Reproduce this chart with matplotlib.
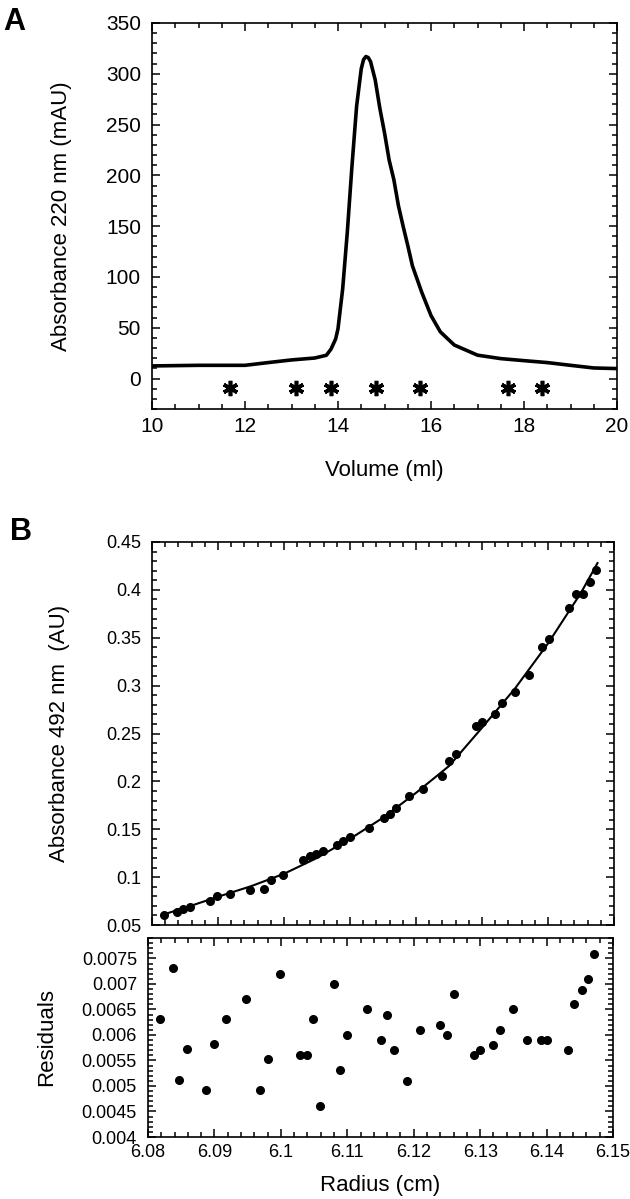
import matplotlib
matplotlib.use("Agg")
import matplotlib.pyplot as plt
from matplotlib.ticker import MultipleLocator, FuncFormatter

plt.rcParams['font.family'] = ['Liberation Sans', 'DejaVu Sans']

# Panel A: gel filtration trace
vol = [10.0, 11.0, 12.0, 12.5, 13.0, 13.5, 13.75, 13.85, 13.95, 14.0, 14.1,
       14.2, 14.3, 14.4, 14.5, 14.55, 14.6, 14.65, 14.7, 14.8, 14.9, 15.0,
       15.1, 15.2, 15.3, 15.4, 15.5, 15.6, 15.8, 16.0, 16.2, 16.5, 17.0, 17.5,
       18.0, 18.5, 19.0, 19.5, 20.0]
a220 = [12.4, 13, 13, 15.7, 18.3, 20.2, 22.9, 29, 39, 49, 88,
        144, 209, 268, 305, 314, 317, 316, 312, 294, 266, 242,
        215, 196, 170, 150, 131, 111, 85, 62, 46, 33, 23, 19.6,
        17.6, 15.7, 13, 10.4, 9.8]
# marker positions (asterisks)
star_vol = [11.67, 13.09, 13.84, 14.81, 15.77, 17.65, 18.38]
star_y = [-9.5, -9.5, -9.5, -9.5, -9.5, -9.5, -9.5]

# Panel B: equilibrium sedimentation
radius = [6.0818, 6.0838, 6.0847, 6.0858, 6.0888, 6.0899, 6.0918, 6.0948,
          6.0969, 6.0980, 6.0999, 6.1029, 6.1039, 6.1049, 6.1059, 6.1080,
          6.1089, 6.1100, 6.1129, 6.1151, 6.1160, 6.1170, 6.1190, 6.1210,
          6.1240, 6.1250, 6.1260, 6.1291, 6.1300, 6.1320, 6.1330, 6.1350,
          6.1371, 6.1391, 6.1401, 6.1432, 6.1442, 6.1453, 6.1463, 6.1472]
a492 = [0.0602, 0.0636, 0.0668, 0.0692, 0.0755, 0.0807, 0.0825, 0.0867,
        0.0877, 0.0971, 0.1017, 0.1174, 0.1216, 0.1237, 0.1268, 0.1334,
        0.1376, 0.1418, 0.1516, 0.1620, 0.1662, 0.1725, 0.1847, 0.1917,
        0.2057, 0.2214, 0.2283, 0.2580, 0.2615, 0.2702, 0.2814, 0.2929,
        0.3110, 0.3407, 0.3484, 0.3812, 0.3958, 0.3958, 0.4080, 0.4209]
resid = [0.00631, 0.00731, 0.00512, 0.00572, 0.00492, 0.00582, 0.00631, 0.00671,
         0.00492, 0.00552, 0.00720, 0.00561, 0.00561, 0.00631, 0.00461, 0.00700,
         0.00531, 0.00600, 0.00650, 0.00590, 0.00640, 0.00570, 0.00510, 0.00609,
         0.00619, 0.00600, 0.00680, 0.00560, 0.00570, 0.00580, 0.00609, 0.00650,
         0.00590, 0.00590, 0.00590, 0.00570, 0.00660, 0.00689, 0.00709, 0.00759]
# fitted curve
fit_r = [6.0815, 6.085, 6.09, 6.095, 6.10, 6.105, 6.11, 6.115, 6.12, 6.125,
         6.13, 6.135, 6.14, 6.145, 6.1475]
fit_a = [0.0605, 0.068, 0.0795, 0.0905, 0.1035, 0.120, 0.140, 0.162, 0.188,
         0.216, 0.256, 0.297, 0.344, 0.397, 0.428]

W, H = 630, 1199
fig = plt.figure(figsize=(W / 100, H / 100), dpi=100)


def box(left, top, right, bottom):
    return [left / W, 1 - bottom / H, (right - left) / W, (bottom - top) / H]


def style(ax, size):
    for s in ax.spines.values():
        s.set_linewidth(1.2)
    ax.tick_params(which='both', direction='in', top=True, right=True,
                   labelsize=size, pad=8, width=1.1)
    ax.tick_params(which='major', length=6)
    ax.tick_params(which='minor', length=3.5)


g = FuncFormatter(lambda v, p: '%g' % round(v, 6))

# --- Panel A
axA = fig.add_axes(box(152, 23, 617, 409))
axA.plot(vol, a220, color='black', lw=2.6, solid_joinstyle='round')
axA.plot(star_vol, star_y, ls='none', marker=(6, 2, 0), ms=11, mew=2.6,
         color='black')
axA.set_xlim(10, 20)
axA.set_ylim(-30, 350)
axA.xaxis.set_major_locator(MultipleLocator(2))
axA.xaxis.set_minor_locator(MultipleLocator(0.5))
axA.yaxis.set_major_locator(MultipleLocator(50))
axA.yaxis.set_minor_locator(MultipleLocator(10))
style(axA, 15)
axA.tick_params(axis='x', pad=6)
axA.set_xlabel('Volume (ml)', fontsize=16)
axA.set_ylabel('Absorbance 220 nm (mAU)', fontsize=16)
axA.xaxis.set_label_coords(0.5, -0.132)
axA.yaxis.set_label_coords(-0.172, 0.5)
fig.text(14 / W, 1 - 22 / H, 'A', fontsize=22, fontweight='bold',
         ha='center', va='center')

# --- Panel B upper
axB = fig.add_axes(box(152, 542, 614, 925))
axB.plot(fit_r, fit_a, color='black', lw=1.5)
axB.plot(radius, a492, ls='none', marker='o', ms=5.5, color='black')
axB.set_xlim(6.08, 6.15)
axB.set_ylim(0.05, 0.45)
axB.xaxis.set_major_locator(MultipleLocator(0.01))
axB.xaxis.set_minor_locator(MultipleLocator(0.002))
axB.yaxis.set_major_locator(MultipleLocator(0.05))
axB.yaxis.set_minor_locator(MultipleLocator(0.01))
axB.yaxis.set_major_formatter(g)
style(axB, 13)
axB.tick_params(labelbottom=False)
axB.set_ylabel('Absorbance 492 nm  (AU)', fontsize=16)
axB.yaxis.set_label_coords(-0.177, 0.5)
fig.text(21 / W, 1 - 532 / H, 'B', fontsize=22, fontweight='bold',
         ha='center', va='center')

# --- Panel B residuals
axR = fig.add_axes(box(148, 938, 613, 1137))
axR.plot(radius, resid, ls='none', marker='o', ms=5.5, color='black')
axR.set_xlim(6.08, 6.15)
axR.set_ylim(0.004, 0.0079)
axR.xaxis.set_major_locator(MultipleLocator(0.01))
axR.xaxis.set_minor_locator(MultipleLocator(0.002))
axR.yaxis.set_major_locator(MultipleLocator(0.0005))
axR.yaxis.set_minor_locator(MultipleLocator(0.0001))
axR.xaxis.set_major_formatter(g)
axR.yaxis.set_major_formatter(g)
style(axR, 13)
axR.tick_params(axis='x', pad=5)
axR.set_xlabel('Radius (cm)', fontsize=16)
axR.set_ylabel('Residuals', fontsize=16)
axR.xaxis.set_label_coords(0.5, -0.19)
axR.yaxis.set_label_coords(-0.196, 0.5)

fig.savefig('out.png', dpi=100)
